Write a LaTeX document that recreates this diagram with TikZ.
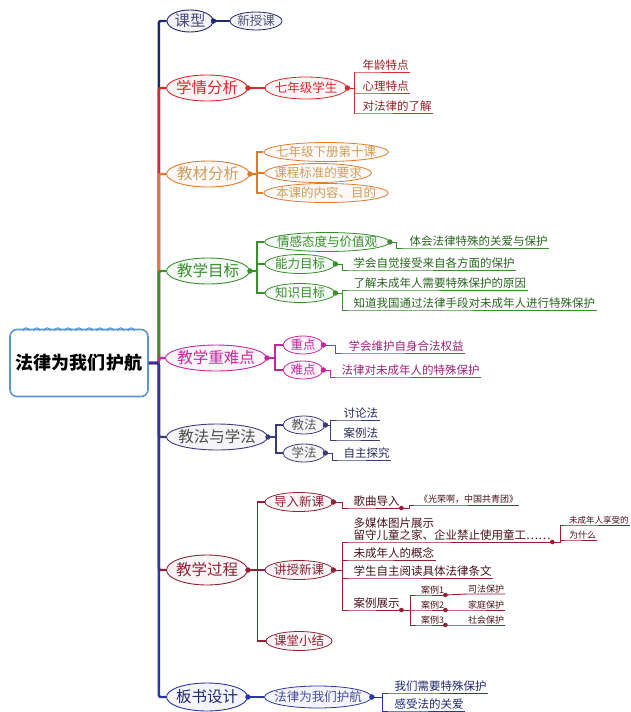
\documentclass[tikz,border=0pt]{standalone}
\usepackage{fontspec}
\setmainfont{Noto Sans CJK SC}
\usetikzlibrary{shapes.geometric,positioning}

\definecolor{rootblue}{HTML}{5A96D2}
\definecolor{kxnavy}{HTML}{1E2870}
\definecolor{xqred}{HTML}{D42A2E}
\definecolor{jcorange}{HTML}{E07A2E}
\definecolor{jctan}{HTML}{C9A060}
\definecolor{mbgreen}{HTML}{3B8E2E}
\definecolor{znmag}{HTML}{C2289A}
\definecolor{jfslate}{HTML}{3A3C78}
\definecolor{gcmaroon}{HTML}{8E2234}
\definecolor{bsblue}{HTML}{2A36A8}

\begin{document}
\begin{tikzpicture}[x=1pt, y=-1pt,
root/.style = {draw=rootblue, rectangle, rounded corners=7pt, line width=1.6pt, fill=white,
               minimum width=138pt, minimum height=67pt, inner sep=0pt, font=\fontsize{18}{18}\selectfont\bfseries},
topic/.style = {ellipse, inner sep=0pt, inner xsep=-3pt, minimum height=26pt, line width=0.9pt, font=\fontsize{15.5}{15.5}\selectfont},
sub/.style = {ellipse, inner sep=0pt, inner xsep=-6pt, minimum height=19pt, line width=0.8pt, font=\fontsize{12.5}{12.5}\selectfont},
col/.style = {draw=#1, fill=#1!5, text=#1},
leaf/.style = {anchor=south west, inner sep=1.5pt, align=left, font=\fontsize{11.5}{12}\selectfont},
tiny/.style = {anchor=south west, inner sep=1pt, font=\fontsize{9}{9}\selectfont},
trunk/.style = {line width=2.4pt, rounded corners=2pt},
branch/.style = {line width=1.4pt},
twig/.style = {line width=0.9pt},
knob/.style = {fill=white, line width=0.7pt},
                    ]
    \useasboundingbox (0,0) rectangle (630,712);
    % centre
    \node [root] (law) at (79,363) {法律为我们护航};
    \foreach \i in {0,...,10}
        \draw[rootblue, line width=1pt] (23+10.5*\i,331) arc[start angle=180, end angle=360, radius=3.2];

    % main topics
    \node [topic, col=kxnavy, minimum width=46pt, minimum height=22pt, text=kxnavy!60!gray]  (kx) at (190,21) {课型};
    \node [topic, col=xqred, minimum width=81pt]      (xq) at (207,88) {学情分析};
    \node [topic, col=jcorange, text=jctan, minimum width=83pt]  (jc) at (208,174) {教材分析};
    \node [topic, col=mbgreen, minimum width=83pt]    (mb) at (208,271) {教学目标};
    \node [topic, col=znmag, minimum width=98pt]      (zn) at (216,358) {教学重难点};
    \node [topic, col=jfslate, text=black!70, minimum width=100pt] (jf) at (217,437) {教法与学法};
    \node [topic, col=gcmaroon, minimum width=81pt, minimum height=30pt] (gc) at (207,570) {教学过程};
    \node [topic, col=bsblue, minimum width=81pt, minimum height=28pt, text=kxnavy]   (bs) at (207,697) {板书设计};

    % trunk
    \draw[trunk, kxnavy]   (law.east) -- ++(10,0) |- (kx.west);
    \draw[trunk, xqred]    (law.east) -- ++(10,0) |- (xq.west);
    \draw[trunk, jcorange] (law.east) -- ++(10,0) |- (jc.west);
    \draw[trunk, mbgreen]  (law.east) -- ++(10,0) |- (mb.west);
    \draw[trunk, znmag]    (law.east) -- ++(10,0) |- (zn.west);
    \draw[trunk, jfslate]  (law.east) -- ++(10,0) |- (jf.west);
    \draw[trunk, gcmaroon] (law.east) -- ++(10,0) |- (gc.west);
    \draw[trunk, bsblue]   (law.east) -- ++(10,0) |- (bs.west);

    % 课型
    \node [sub, col=kxnavy, text=kxnavy!50!gray, minimum width=52pt, minimum height=18pt] (xsk) at (256,21) {新授课};
    \draw[branch, kxnavy] (kx) -- (xsk);

    % 学情分析
    \node [sub, col=xqred, minimum width=82pt, minimum height=22pt] (qn) at (306,88) {七年级学生};
    \node [leaf, text=xqred!70!black] (nl)  at (354,72)  {\hspace*{7pt}年龄特点};
    \node [leaf, text=xqred!70!black] (xl)  at (354,93)  {\hspace*{7pt}心理特点};
    \node [leaf, text=xqred!70!black] (dfl) at (354,113) {\hspace*{7pt}对法律的了解};
    \draw[branch, xqred] (xq) -- (qn);
    \draw[twig, xqred] (qn.east) -- ++(7,0) |- (nl.south west) -- (nl.south east);
    \draw[twig, xqred] (qn.east) -- ++(7,0) |- (xl.south west) -- (xl.south east);
    \draw[twig, xqred] (qn.east) -- ++(7,0) |- (dfl.south west) -- (dfl.south east);

    % 教材分析
    \node [sub, col=jcorange, text=jctan, minimum width=122pt] (jc1) at (326,152) {七年级下册第十课};
    \node [sub, col=jcorange, text=jctan, minimum width=107pt] (jc2) at (318,173) {课程标准的要求};
    \node [sub, col=jcorange, text=jctan, minimum width=122pt] (jc3) at (326,193) {本课的内容、目的};
    \draw[branch, jcorange] (jc.east) -- ++(7,0) |- (jc1.west);
    \draw[branch, jcorange] (jc.east) -- ++(7,0) |- (jc2.west);
    \draw[branch, jcorange] (jc.east) -- ++(7,0) |- (jc3.west);

    % 教学目标
    \node [sub, col=mbgreen, minimum width=125pt] (mb1) at (327,242) {情感态度与价值观};
    \node [sub, col=mbgreen, minimum width=70pt]  (mb2) at (300,264) {能力目标};
    \node [sub, col=mbgreen, minimum width=70pt]  (mb3) at (300,293) {知识目标};
    \node [leaf, text=mbgreen!70!black] (mbl1) at (408,248) {体会法律特殊的关爱与保护};
    \node [leaf, text=mbgreen!70!black] (mbl2) at (352,270) {学会自觉接受来自各方面的保护};
    \node [leaf, text=mbgreen!70!black] (mbl3) at (352,290) {了解未成年人需要特殊保护的原因};
    \node [leaf, text=mbgreen!70!black] (mbl4) at (352,310) {知道我国通过法律手段对未成年人进行特殊保护};
    \draw[branch, mbgreen] (mb.east) -- ++(7,0) |- (mb1.west);
    \draw[branch, mbgreen] (mb.east) -- ++(7,0) |- (mb2.west);
    \draw[branch, mbgreen] (mb.east) -- ++(7,0) |- (mb3.west);
    \draw[twig, mbgreen] (mb1.east) -- ++(7,0) |- (mbl1.south west) -- (mbl1.south east);
    \draw[twig, mbgreen] (mb2.east) -- ++(7,0) |- (mbl2.south west) -- (mbl2.south east);
    \draw[twig, mbgreen] (mb3.east) -- ++(7,0) |- (mbl3.south west) -- (mbl3.south east);
    \draw[twig, mbgreen] (mb3.east) -- ++(7,0) |- (mbl4.south west) -- (mbl4.south east);

    % 教学重难点
    \node [sub, col=znmag, minimum width=40pt, minimum height=18pt] (zd) at (303,345) {重点};
    \node [sub, col=znmag, minimum width=40pt, minimum height=18pt] (nd) at (303,370) {难点};
    \node [leaf, text=znmag!80!black] (zdl) at (347,353) {学会维护自身合法权益};
    \node [leaf, text=znmag!80!black] (ndl) at (340,377) {法律对未成年人的特殊保护};
    \draw[branch, znmag] (zn.east) -- ++(8,0) |- (zd.west);
    \draw[branch, znmag] (zn.east) -- ++(8,0) |- (nd.west);
    \draw[twig, znmag] (zd.east) -- ++(12,0) |- (zdl.south west) -- (zdl.south east);
    \draw[twig, znmag] (nd.east) -- ++(7,0) |- (ndl.south west) -- (ndl.south east);

    % 教法与学法
    \node [sub, col=jfslate, text=black!65, minimum width=42pt, minimum height=18pt] (jff) at (304,425) {教法};
    \node [sub, col=jfslate, text=black!65, minimum width=42pt, minimum height=18pt] (xf)  at (304,453) {学法};
    \node [leaf, text=jfslate!70!black] (tlf) at (342,420) {讨论法};
    \node [leaf, text=jfslate!70!black] (alf) at (342,440) {案例法};
    \node [leaf, text=jfslate!70!black] (zzt) at (342,460) {自主探究};
    \draw[branch, jfslate] (jf.east) -- ++(8,0) |- (jff.west);
    \draw[branch, jfslate] (jf.east) -- ++(8,0) |- (xf.west);
    \draw[twig, jfslate] (jff.east) -- ++(5,0) |- (tlf.south west) -- (tlf.south east);
    \draw[twig, jfslate] (jff.east) -- ++(5,0) |- (alf.south west) -- (alf.south east);
    \draw[twig, jfslate] (xf.east) -- ++(7,0) |- (zzt.south west) -- (zzt.south east);

    % 教学过程
    \node [sub, col=gcmaroon, minimum width=68pt] (drx) at (299,502) {导入新课};
    \node [sub, col=gcmaroon, minimum width=68pt] (jsx) at (299,570) {讲授新课};
    \node [sub, col=gcmaroon, minimum width=66pt] (ktx) at (299,641) {课堂小结};
    \draw[branch, gcmaroon] (gc.east) -- ++(9.5,0) |- (drx.west);
    \draw[branch, gcmaroon] (gc.east) -- ++(9.5,0) |- (jsx.west);
    \draw[branch, gcmaroon] (gc.east) -- ++(9.5,0) |- (ktx.west);
    \node [leaf, text=gcmaroon!50!black] (gqd)  at (352,508) {歌曲导入};
    \node [tiny, text=gcmaroon!50!black] (song) at (418,505) {《光荣啊，中国共青团》};
    \node [leaf, text=gcmaroon!50!black] (dmt)  at (352,542) {多媒体图片展示\\留守儿童之家、企业禁止使用童工……};
    \node [tiny, text=gcmaroon!50!black, font=\fontsize{8.5}{9}\selectfont] (wcn) at (568,525) {未成年人享受的};
    \node [tiny, text=gcmaroon!50!black] (wsm)  at (568,540) {为什么};
    \node [leaf, text=gcmaroon!50!black] (wcg)  at (352,560) {未成年人的概念};
    \node [leaf, text=gcmaroon!50!black] (ydt)  at (352,578) {学生自主阅读具体法律条文};
    \node [leaf, text=gcmaroon!50!black] (alz)  at (352,610) {案例展示};
    \node [tiny, text=gcmaroon!50!black] (al1)  at (420,595) {案例1};
    \node [tiny, text=gcmaroon!50!black] (al2)  at (420,610) {案例2};
    \node [tiny, text=gcmaroon!50!black] (al3)  at (420,625) {案例3};
    \node [tiny, text=gcmaroon!50!black] (bh1)  at (467,594) {司法保护};
    \node [tiny, text=gcmaroon!50!black] (bh2)  at (467,610) {家庭保护};
    \node [tiny, text=gcmaroon!50!black] (bh3)  at (467,625) {社会保护};
    \draw[twig, gcmaroon] (drx.east) -- ++(9,0) |- (gqd.south west) -- (gqd.south east);
    \draw[twig, gcmaroon] (gqd.south east) -- ++(8,0) |- (song.south west) -- (song.south east);
    \draw[twig, gcmaroon] (jsx.east) -- ++(9,0) |- (dmt.south west) -- (dmt.south east);
    \draw[twig, gcmaroon] (jsx.east) -- ++(9,0) |- (wcg.south west) -- (wcg.south east);
    \draw[twig, gcmaroon] (jsx.east) -- ++(9,0) |- (ydt.south west) -- (ydt.south east);
    \draw[twig, gcmaroon] (jsx.east) -- ++(9,0) |- (alz.south west) -- (alz.south east);
    \draw[twig, gcmaroon] (dmt.south east) -- ++(8,0) |- (wcn.south west) -- (wcn.south east);
    \draw[twig, gcmaroon] (dmt.south east) -- ++(8,0) |- (wsm.south west) -- (wsm.south east);
    \draw[twig, gcmaroon] (alz.south east) -- ++(9,0) |- (al1.south west) -- (al1.south east);
    \draw[twig, gcmaroon] (alz.south east) -- ++(9,0) |- (al2.south west) -- (al2.south east);
    \draw[twig, gcmaroon] (alz.south east) -- ++(9,0) |- (al3.south west) -- (al3.south east);
    \draw[twig, gcmaroon] (al1.south east) -- (bh1.south west) -- (bh1.south east);
    \draw[twig, gcmaroon] (al2.south east) -- (bh2.south west) -- (bh2.south east);
    \draw[twig, gcmaroon] (al3.south east) -- (bh3.south west) -- (bh3.south east);
    \foreach \n in {gqd, dmt, alz, al1, al2, al3}
        \draw[knob, gcmaroon, line width=0.5pt] (\n.south east) circle[radius=2];

    % 板书设计
    \node [sub, col=bsblue, text=bsblue!70!gray, minimum width=107pt, minimum height=22pt] (bsl) at (318,697) {法律为我们护航};
    \node [leaf, text=kxnavy] (tsb) at (393,693) {我们需要特殊保护};
    \node [leaf, text=kxnavy] (gsa) at (393,711) {感受法的关爱};
    \draw[branch, bsblue] (bs) -- (bsl);
    \draw[twig, bsblue] (bsl.east) -- ++(10.5,0) |- (tsb.south west) -- (tsb.south east);
    \draw[twig, bsblue] (bsl.east) -- ++(10.5,0) |- (gsa.south west) -- (gsa.south east);

    % collapse knobs
    \foreach \n/\c in {kx/kxnavy, xq/xqred, qn/xqred, jc/jcorange, mb/mbgreen, mb1/mbgreen, mb2/mbgreen, mb3/mbgreen,
                       zn/znmag, zd/znmag, nd/znmag, jf/jfslate, jff/jfslate, xf/jfslate,
                       gc/gcmaroon, drx/gcmaroon, jsx/gcmaroon, bs/bsblue, bsl/bsblue}
        \draw[knob, \c] (\n.east) circle[radius=2.3];
\end{tikzpicture}
\end{document}
